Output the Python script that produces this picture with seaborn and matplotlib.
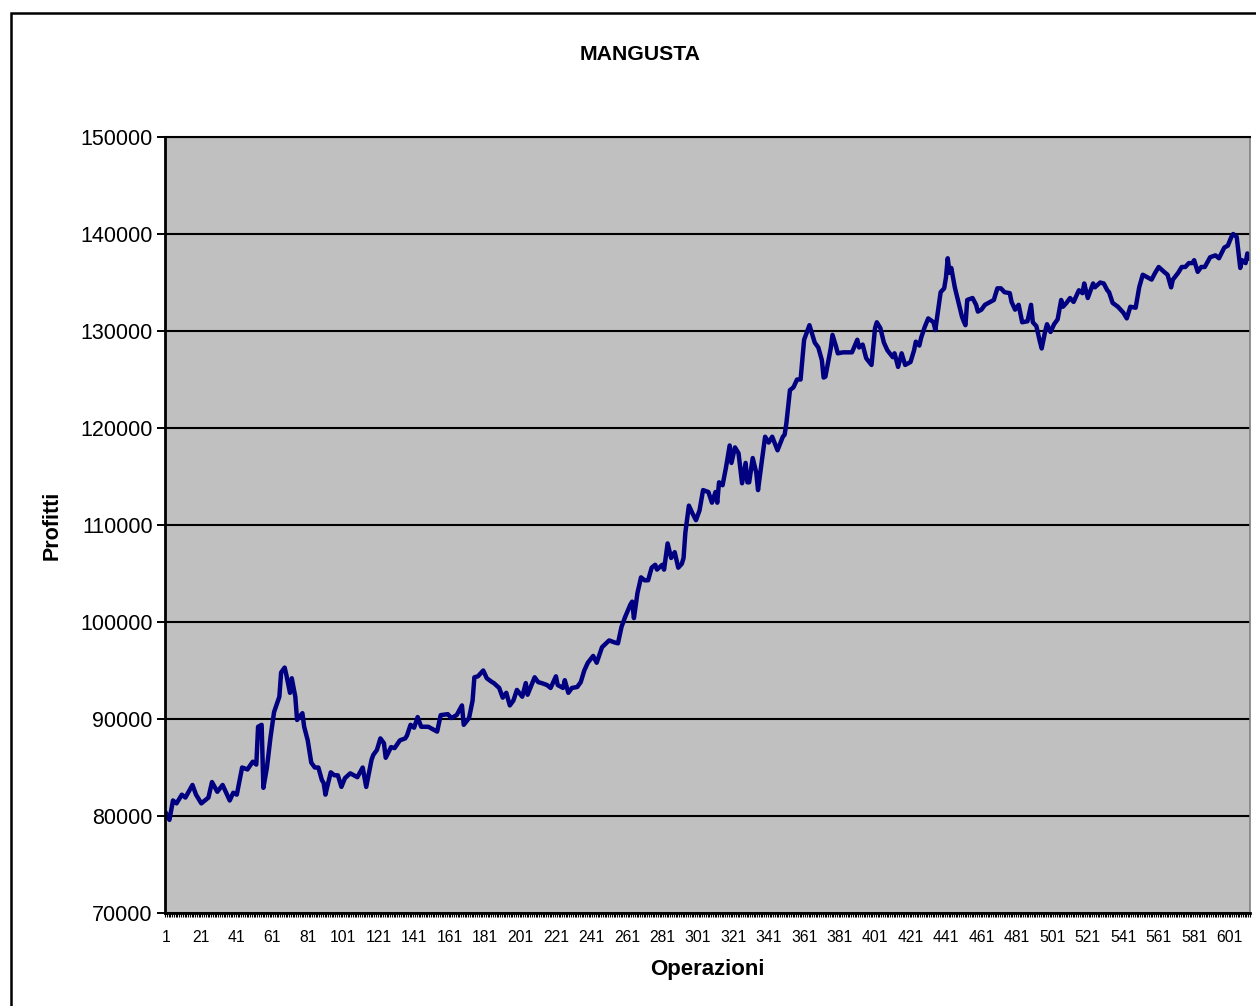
import numpy as np
import pandas as pd
import matplotlib
matplotlib.use("Agg")
import matplotlib.pyplot as plt
import seaborn as sns
from matplotlib.patches import Rectangle

# operation number and profit
operazioni = [
    1, 3, 5, 7, 10, 12, 16, 18, 21, 25, 27, 30, 33, 37, 39, 41, 44, 47, 50, 52,
    53, 55, 56, 58, 60, 62, 65, 66, 68, 69, 71, 72, 74, 75, 78, 79, 81, 83, 85, 87,
    89, 90, 91, 92, 94, 96, 98, 100, 102, 105, 107, 109, 112, 114, 117, 118, 120, 122, 124, 125,
    128, 130, 133, 136, 137, 139, 141, 143, 145, 149, 152, 154, 156, 160, 162, 165, 168, 169, 172, 174,
    175, 177, 180, 182, 185, 186, 189, 191, 193, 195, 197, 199, 202, 204, 205, 209, 211, 213, 216, 218,
    221, 222, 225, 226, 228, 230, 233, 235, 237, 239, 242, 244, 247, 251, 254, 256, 258, 260, 263, 264,
    265, 267, 269, 271, 273, 275, 277, 278, 281, 282, 284, 286, 288, 290, 292, 293, 294, 296, 298, 300,
    302, 304, 307, 309, 311, 312, 313, 315, 317, 319, 320, 322, 324, 326, 328, 329, 330, 332, 334, 335,
    337, 339, 341, 343, 346, 349, 350, 351, 353, 355, 357, 359, 360, 361, 364, 367, 369, 371, 372, 373,
    375, 376, 377, 379, 380, 383, 388, 391, 392, 394, 396, 399, 401, 402, 404, 406, 408, 411, 412, 414,
    416, 418, 421, 423, 424, 426, 427, 429, 431, 434, 435, 436, 438, 440, 441, 442, 443, 444, 446, 448,
    450, 451, 452, 453, 456, 458, 459, 461, 463, 466, 468, 470, 472, 474, 477, 478, 480, 482, 484, 487,
    489, 490, 492, 494, 495, 497, 498, 500, 502, 504, 506, 507, 509, 511, 513, 516, 518, 519, 521, 524,
    525, 528, 530, 532, 533, 535, 538, 541, 543, 545, 548, 550, 552, 555, 557, 559, 561, 564, 566, 568,
    569, 572, 574, 576, 578, 580, 581, 583, 585, 587, 590, 593, 595, 598, 600, 602, 603, 605, 607, 608,
    610, 611, 612,
]
profitti = [
    80300, 79600, 81600, 81300, 82200, 81900, 83200, 82200, 81300, 81900, 83500, 82500, 83200, 81600, 82400, 82200, 85000, 84800, 85600, 85300,
    89200, 89400, 82900, 85000, 88100, 90700, 92300, 94800, 95300, 94500, 92700, 94200, 92300, 89900, 90600, 89200, 87800, 85500, 85000, 85000,
    83700, 83400, 82200, 83000, 84500, 84200, 84200, 83000, 83900, 84400, 84200, 84000, 85000, 83000, 85800, 86300, 86800, 88000, 87500, 86000,
    87100, 87000, 87800, 88000, 88300, 89400, 89100, 90200, 89200, 89200, 88900, 88700, 90400, 90500, 90100, 90400, 91400, 89400, 90100, 91900,
    94300, 94400, 95000, 94200, 93800, 93700, 93200, 92200, 92700, 91400, 91900, 93000, 92300, 93700, 92500, 94300, 93800, 93700, 93500, 93200,
    94400, 93500, 93200, 94000, 92700, 93200, 93300, 93800, 95000, 95800, 96500, 95800, 97400, 98100, 97900, 97800, 99500, 100500, 101800, 102100,
    100400, 103000, 104600, 104300, 104300, 105600, 105900, 105400, 105900, 105400, 108100, 106600, 107200, 105600, 106000, 106600, 109200, 112000, 111200, 110500,
    111500, 113600, 113400, 112300, 113400, 112300, 114400, 114100, 116000, 118200, 116400, 118000, 117400, 114300, 116400, 114400, 114400, 116900, 115400, 113600,
    116400, 119100, 118500, 119100, 117700, 119100, 119300, 120500, 123900, 124200, 125000, 125000, 127000, 129100, 130600, 128800, 128300, 127000, 125200, 125300,
    127200, 128200, 129600, 128400, 127700, 127800, 127800, 129100, 128300, 128600, 127200, 126500, 130300, 130900, 130300, 128800, 128000, 127300, 127700, 126300,
    127700, 126500, 126800, 128000, 128900, 128500, 129300, 130400, 131300, 130900, 130100, 131400, 134000, 134400, 135500, 137500, 136000, 136500, 134500, 133000,
    131500, 131000, 130600, 133200, 133400, 132700, 132000, 132200, 132700, 133000, 133200, 134400, 134400, 134000, 133900, 133000, 132200, 132700, 130900, 131000,
    132700, 130900, 130500, 128900, 128200, 130000, 130700, 129900, 130700, 131200, 133200, 132500, 132900, 133400, 133000, 134200, 133900, 134900, 133400, 134900,
    134500, 135000, 134900, 134200, 134000, 132900, 132500, 131900, 131300, 132500, 132400, 134500, 135800, 135500, 135300, 136000, 136600, 136100, 135800, 134500,
    135300, 136000, 136600, 136600, 137000, 137000, 137300, 136100, 136600, 136600, 137600, 137800, 137500, 138600, 138800, 139700, 140000, 139700, 136500, 137300,
    137000, 138000, 137500,
]

n_operazioni = 612
y_ticks = list(range(70000, 150001, 10000))
x_ticks = list(range(1, 602, 20))

df = pd.DataFrame({"Operazioni": operazioni, "Profitti": profitti})

plt.rcParams["font.family"] = ["Liberation Sans", "DejaVu Sans"]

fig = plt.figure(figsize=(12.56, 10.06), dpi=100)
ax = fig.add_axes([165 / 1256, 1 - 913 / 1006, 1085 / 1256, 776 / 1006])
ax.set_facecolor("#c0c0c0")

sns.lineplot(data=df, x="Operazioni", y="Profitti", ax=ax, color="#000080",
             linewidth=3.2, estimator=None, sort=False)

ax.set_xlim(0.5, n_operazioni + 0.5)
ax.set_ylim(70000, 150000)
ax.set_yticks(y_ticks)
ax.set_yticklabels([str(v) for v in y_ticks], fontsize=15.5)
ax.set_xticks(x_ticks)
ax.set_xticklabels([str(v) for v in x_ticks], fontsize=11.3)
ax.set_xticks(np.arange(0.5, n_operazioni + 1, 1.0), minor=True)
ax.tick_params(axis="x", which="major", length=0, pad=12)
ax.tick_params(axis="x", which="minor", length=3, width=0.8, color="black", direction="out")
ax.tick_params(axis="y", which="major", length=6, width=1.4, color="black", pad=3)

ax.grid(axis="y", color="black", linewidth=1.5)
ax.grid(axis="x", visible=False)
ax.set_axisbelow(True)

for side in ["left", "bottom"]:
    ax.spines[side].set_color("black")
    ax.spines[side].set_linewidth(2)
ax.spines["top"].set_color("black")
ax.spines["top"].set_linewidth(1.5)
ax.spines["right"].set_color("#808080")
ax.spines["right"].set_linewidth(1.2)

ax.set_xlabel("")
ax.set_ylabel("")
fig.text(640 / 1256, 1 - 55 / 1006, "MANGUSTA", ha="center", va="center",
         fontsize=15.3, fontweight="bold")
fig.text(707 / 1256, 1 - 970 / 1006, "Operazioni", ha="center", va="center",
         fontsize=16, fontweight="bold")
fig.text(52 / 1256, 1 - 525 / 1006, "Profitti", ha="center", va="center",
         fontsize=15.5, fontweight="bold", rotation=90)

# chart area border (runs past the right and bottom edges)
fig.patches.append(Rectangle((11 / 1256, -0.1), 1.2, 1.1 - 13 / 1006,
                             transform=fig.transFigure, fill=False,
                             edgecolor="black", linewidth=1.8))

fig.savefig("out.png", dpi=100, facecolor="white")
